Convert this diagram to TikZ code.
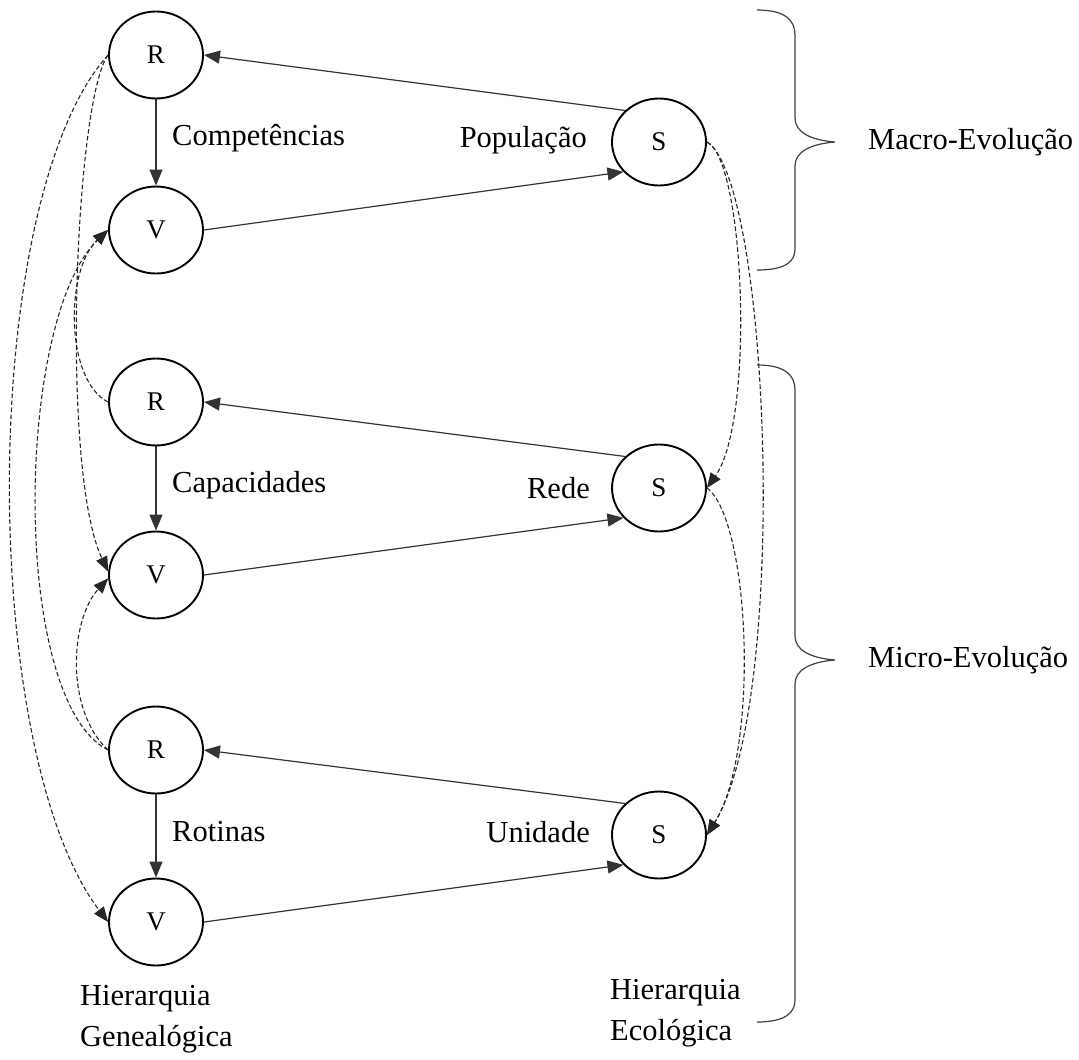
\documentclass[tikz,border=0pt]{standalone}
\usepackage{fontspec}
\setmainfont{Liberation Serif}
\usetikzlibrary{arrows.meta,shapes.geometric}
\begin{document}
\begin{tikzpicture}[x=1pt,y=-1pt,
  unit/.style={ellipse,draw,line width=1.9pt,minimum width=94pt,minimum height=87pt,
    inner sep=0pt,font=\fontsize{27}{32}\selectfont},
  link/.style={line width=1.2pt,draw=black!80,-{Triangle[length=16pt,width=13pt]}},
  cross/.style={line width=1.1pt,draw=black!85,dash pattern=on 4.5pt off 2.5pt,
    -{Triangle[length=15pt,width=12pt]}},
  lbl/.style={font=\fontsize{30.5}{36}\selectfont,inner sep=0pt},
  foot/.style={font=\fontsize{30.5}{41}\selectfont,inner sep=0pt,align=left,anchor=north west},
  brace/.style={line width=1.2pt,draw=black!75}]
\useasboundingbox (0,0) rectangle (1079,1060);

% genealogical column
\node[unit] (R1) at (156,55) {R};
\node[unit] (V1) at (156,230) {V};
\node[unit] (R2) at (156,402) {R};
\node[unit] (V2) at (156,575) {V};
\node[unit] (R3) at (156,750) {R};
\node[unit] (V3) at (156,922) {V};

% ecological column
\node[unit] (S1) at (659,142) {S};
\node[unit] (S2) at (659,488) {S};
\node[unit] (S3) at (659,835) {S};

% level labels
\node[lbl,anchor=west] (lc1) at (172,138) {Competências};
\node[lbl,anchor=east] (lp1) at (587,140) {População};
\node[lbl,anchor=west] (lc2) at (172,485) {Capacidades};
\node[lbl,anchor=east] (lp2) at (590,488) {Rede};
\node[lbl,anchor=west] (lc3) at (172,832) {Rotinas};
\node[lbl,anchor=east] (lp3) at (590,832) {Unidade};

% solid links within each level
\foreach \r/\v/\s in {R1/V1/S1,R2/V2/S2,R3/V3/S3}{
  \draw[link] (\r.south) -- (\v.north);
  \draw[link] (\v.east) -- (\s.220);
  \draw[link] (\s.137) -- (\r.east);
}

% dashed genealogical links
\draw[cross] (R1.west) .. controls (-22,200) and (-22,750) .. (V3.west);
\draw[cross] (R1.west) .. controls (75,100) and (60,470) .. (V2.176);
\draw[cross] (R2.west) .. controls (65,380) and (65,270) .. (V1.west);
\draw[cross] (R3.west) .. controls (10,700) and (15,320) .. (V1.west);
\draw[cross] (R3.west) .. controls (65,710) and (70,620) .. (V2.184);

% dashed ecological links
\draw[cross] (S1.east) .. controls (745,160) and (755,420) .. (S2.east);
\draw[cross] (S1.east) .. controls (770,180) and (790,700) .. (S3.east);
\draw[cross] (S2.east) .. controls (750,520) and (760,750) .. (S3.east);

% braces
\draw[brace] (757,10) .. controls (785,10) and (795,20) .. (795,35) -- (795,118)
  .. controls (795,132) and (810,140) .. (835,142)
  .. controls (810,144) and (795,152) .. (795,166) -- (795,249)
  .. controls (795,262) and (785,270) .. (757,270);
\draw[brace] (757,365) .. controls (785,365) and (795,375) .. (795,390) -- (795,636)
  .. controls (795,650) and (810,658) .. (835,660)
  .. controls (810,662) and (795,670) .. (795,684) -- (795,1000)
  .. controls (795,1013) and (785,1022) .. (757,1022);
\node[lbl,anchor=west] (macro) at (868,142) {Macro-Evolução};
\node[lbl,anchor=west] (micro) at (868,660) {Micro-Evolução};

% hierarchy captions
\node[foot] (hg) at (80,985) {Hierarquia\\Genealógica};
\node[foot] (he) at (610,979) {Hierarquia\\Ecológica};
\end{tikzpicture}
\end{document}
